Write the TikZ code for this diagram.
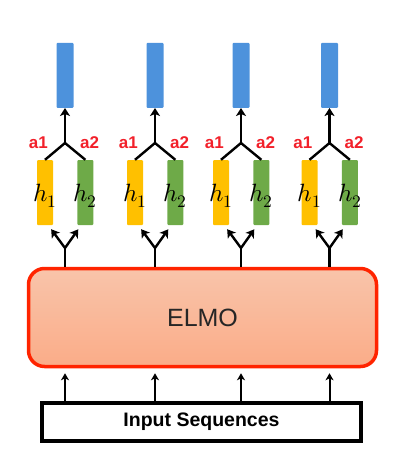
\documentclass[tikz,border=0pt]{standalone}
\usepackage{fontspec}
\usepackage{unicode-math}
\setsansfont{Liberation Sans}
\setmathfont{Latin Modern Math}
\usepackage{tikz}
\usetikzlibrary{arrows.meta, positioning}

\definecolor{barblue}{HTML}{4D92DC}
\definecolor{baryellow}{HTML}{FFC000}
\definecolor{bargreen}{HTML}{6EAA48}
\definecolor{alred}{HTML}{F2202A}
\definecolor{elmoedge}{HTML}{FF2400}
\definecolor{elmotop}{HTML}{F9C4AA}
\definecolor{elmobot}{HTML}{FAAC88}

\begin{document}
\begin{tikzpicture}[
        x=1pt, y=-1pt,
        node distance=24pt,
        % Node styles
        outbar/.style={rectangle, fill=barblue, minimum width=17pt, minimum height=65pt,
                       inner sep=0pt, rounded corners=1pt},
        hbar/.style={rectangle, fill=#1, minimum width=16pt, minimum height=65pt,
                     inner sep=0pt, rounded corners=1pt},
        hlabel/.style={font=\fontsize{25}{30}\selectfont, inner sep=0pt, yshift=-3pt},
        alabel/.style={text=alred, font=\sffamily\bfseries\fontsize{17}{20}\selectfont, inner sep=0pt},
        elmobox/.style={rectangle, draw=elmoedge, line width=3.5pt, rounded corners=16pt,
                        top color=elmotop, bottom color=elmobot, minimum width=348pt,
                        minimum height=98pt, text=black!85, font=\sffamily\fontsize{25}{30}\selectfont},
        inputbox/.style={rectangle, draw=black, line width=4pt, fill=white, minimum width=319pt,
                         minimum height=38pt, font=\sffamily\bfseries\fontsize{19.5}{23}\selectfont},
        link/.style={line width=2.4pt},
        arrow/.style={line width=2.4pt, -{Stealth[length=8pt, width=10pt, inset=2pt]}},
        inarrow/.style={line width=2pt, -{Stealth[length=7pt, width=8pt, inset=2pt]}, shorten >=5pt}
    ]
        \useasboundingbox (0,0) rectangle (419,451);

        % Main boxes
        \node[elmobox] (elmo) at (202.5,317.5) {ELMO};
        \node[inputbox] (input) at (201.5,422) {Input Sequences};

        % Column A
        \node[hbar=baryellow, label={[hlabel]center:$h_1$}] (h1a) at (45,192.5) {};
        \node[hbar=bargreen, label={[hlabel]center:$h_2$}, right=of h1a] (h2a) {};
        \coordinate (joina) at (65,143);
        \coordinate (forka) at (65,248);
        \node[outbar, above=35pt of joina] (outa) {};
        \node[alabel, left=17pt of joina] (a1a) {a1};
        \node[alabel, right=15pt of joina] (a2a) {a2};

        % Column B
        \node[hbar=baryellow, label={[hlabel]center:$h_1$}] (h1b) at (135,192.5) {};
        \node[hbar=bargreen, label={[hlabel]center:$h_2$}, right=of h1b] (h2b) {};
        \coordinate (joinb) at (155,143);
        \coordinate (forkb) at (155,248);
        \node[outbar, above=35pt of joinb] (outb) {};
        \node[alabel, left=17pt of joinb] (a1b) {a1};
        \node[alabel, right=15pt of joinb] (a2b) {a2};

        % Column C
        \node[hbar=baryellow, label={[hlabel]center:$h_1$}] (h1c) at (221,192.5) {};
        \node[hbar=bargreen, label={[hlabel]center:$h_2$}, right=of h1c] (h2c) {};
        \coordinate (joinc) at (241,143);
        \coordinate (forkc) at (241,248);
        \node[outbar, above=35pt of joinc] (outc) {};
        \node[alabel, left=17pt of joinc] (a1c) {a1};
        \node[alabel, right=15pt of joinc] (a2c) {a2};

        % Column D
        \node[hbar=baryellow, label={[hlabel]center:$h_1$}] (h1d) at (309.5,192.5) {};
        \node[hbar=bargreen, label={[hlabel]center:$h_2$}, right=of h1d] (h2d) {};
        \coordinate (joind) at (329.5,143);
        \coordinate (forkd) at (329.5,248);
        \node[outbar, above=35pt of joind] (outd) {};
        \node[alabel, left=17pt of joind] (a1d) {a1};
        \node[alabel, right=15pt of joind] (a2d) {a2};

        % Input arrows into ELMO
        \draw[inarrow] (input.north -| forka) -- (elmo.south -| forka);
        \draw[inarrow] (input.north -| forkb) -- (elmo.south -| forkb);
        \draw[inarrow] (input.north -| forkc) -- (elmo.south -| forkc);
        \draw[inarrow] (input.north -| forkd) -- (elmo.south -| forkd);

        % ELMO outputs split to h1 and h2
        \draw[link] (elmo.north -| forka) -- (forka);
        \draw[arrow, shorten >=5pt] (forka) -- ([xshift=-5pt]h1a.south east);
        \draw[arrow, shorten >=5pt] (forka) -- ([xshift=4pt]h2a.south west);
        \draw[link] (elmo.north -| forkb) -- (forkb);
        \draw[arrow, shorten >=5pt] (forkb) -- ([xshift=-5pt]h1b.south east);
        \draw[arrow, shorten >=5pt] (forkb) -- ([xshift=4pt]h2b.south west);
        \draw[link] (elmo.north -| forkc) -- (forkc);
        \draw[arrow, shorten >=5pt] (forkc) -- ([xshift=-5pt]h1c.south east);
        \draw[arrow, shorten >=5pt] (forkc) -- ([xshift=4pt]h2c.south west);
        \draw[link] (elmo.north -| forkd) -- (forkd);
        \draw[arrow, shorten >=5pt] (forkd) -- ([xshift=-5pt]h1d.south east);
        \draw[arrow, shorten >=5pt] (forkd) -- ([xshift=4pt]h2d.south west);

        % Weighted join up to the output
        \draw[link] (h1a.north) -- (joina) -- (h2a.north);
        \draw[arrow] (joina) -- (outa.south);
        \draw[link] (h1b.north) -- (joinb) -- (h2b.north);
        \draw[arrow] (joinb) -- (outb.south);
        \draw[link] (h1c.north) -- (joinc) -- (h2c.north);
        \draw[arrow] (joinc) -- (outc.south);
        \draw[link] (h1d.north) -- (joind) -- (h2d.north);
        \draw[arrow] (joind) -- (outd.south);
    \end{tikzpicture}
\end{document}
